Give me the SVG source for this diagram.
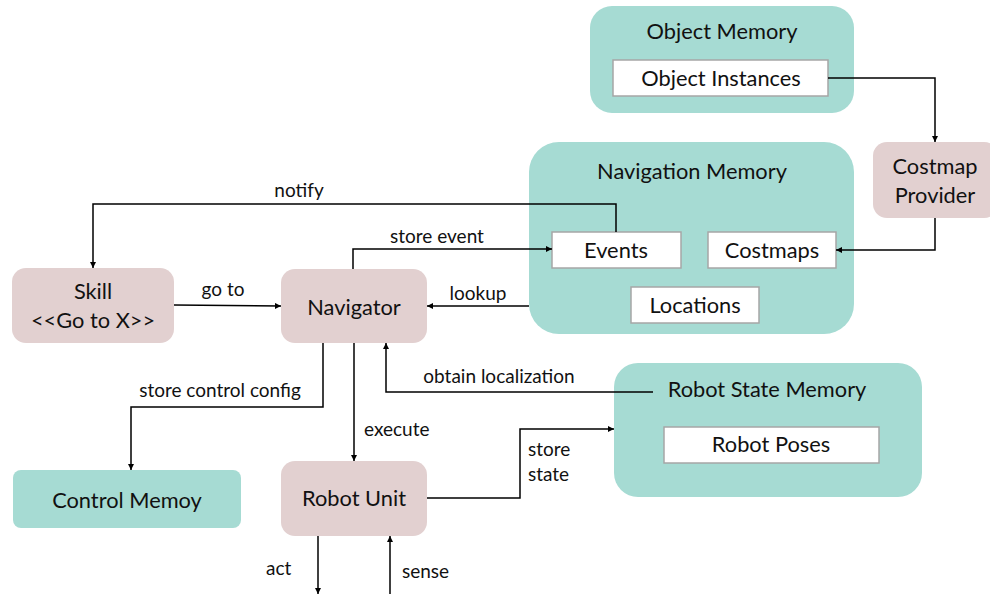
<svg xmlns="http://www.w3.org/2000/svg" width="990" height="594" viewBox="0 0 990 594">
<style>
.mem{fill:#A6DBD3;}
.act{fill:#E2D0D0;}
.inner{fill:#fff;stroke:#A6A6A6;stroke-width:1.5;}
.t{font-family:Lato,"Open Sans",sans-serif;font-size:21.8px;fill:#111;text-anchor:middle;}
.l{font-family:Lato,"Open Sans",sans-serif;font-size:19px;fill:#111;}
.c{fill:none;stroke:#000;stroke-width:1.5;}
</style>
<defs>
<marker id="ah" viewBox="0 0 10 10" refX="10" refY="5" markerWidth="6" markerHeight="6" orient="auto" markerUnits="userSpaceOnUse">
<path d="M0,0 L10,5 L0,10 z" fill="#000"/>
</marker>
</defs>
<rect width="990" height="594" fill="#fff"/>

<g id="object-memory">
<rect class="mem" x="590" y="6" width="264" height="107" rx="22"/>
<text class="t" x="722" y="39">Object Memory</text>
<rect class="inner" x="613" y="60" width="215" height="36"/>
<text class="t" x="721" y="86">Object Instances</text>
</g>

<g id="navigation-memory">
<rect class="mem" x="529" y="142" width="325" height="192" rx="30"/>
<text class="t" x="692" y="179">Navigation Memory</text>
<rect class="inner" x="552" y="232" width="129" height="36"/>
<text class="t" x="616" y="258">Events</text>
<rect class="inner" x="708" y="232" width="128" height="36"/>
<text class="t" x="772" y="258">Costmaps</text>
<rect class="inner" x="631" y="287" width="128" height="36"/>
<text class="t" x="695" y="313">Locations</text>
</g>

<g id="costmap-provider">
<rect class="act" x="873" y="142" width="125" height="76" rx="14"/>
<text class="t" x="935" y="174">Costmap</text>
<text class="t" x="935" y="203">Provider</text>
</g>

<g id="skill">
<rect class="act" x="12" y="268" width="162" height="75" rx="14"/>
<text class="t" x="93" y="299">Skill</text>
<text class="t" x="93" y="328">&lt;&lt;Go to X&gt;&gt;</text>
</g>

<g id="navigator">
<rect class="act" x="281" y="269" width="146" height="74" rx="14"/>
<text class="t" x="354" y="315">Navigator</text>
</g>

<g id="robot-state-memory">
<rect class="mem" x="614" y="363" width="308" height="134" rx="24"/>
<text class="t" x="767" y="397">Robot State Memory</text>
<rect class="inner" x="664" y="427" width="215" height="36"/>
<text class="t" x="771" y="452">Robot Poses</text>
</g>

<g id="control-memory">
<rect class="mem" x="13" y="470" width="228" height="58" rx="8"/>
<text class="t" x="127" y="508">Control Memoy</text>
</g>

<g id="robot-unit">
<rect class="act" x="281" y="461" width="146" height="75" rx="14"/>
<text class="t" x="354" y="506">Robot Unit</text>
</g>

<g id="connectors">
<polyline class="c" points="828,78 935,78 935,142" marker-end="url(#ah)"/>
<polyline class="c" points="935,218 935,250 836,250" marker-end="url(#ah)"/>
<polyline class="c" points="616,232 616,204 93,204 93,268" marker-end="url(#ah)"/>
<polyline class="c" points="353,269 353,249 552,249" marker-end="url(#ah)"/>
<polyline class="c" points="174,305 281,306" marker-end="url(#ah)"/>
<polyline class="c" points="529,306 427,306" marker-end="url(#ah)"/>
<polyline class="c" points="323,343 323,407 131,407 131,470" marker-end="url(#ah)"/>
<polyline class="c" points="354,343 354,461" marker-end="url(#ah)"/>
<polyline class="c" points="653,392 386,392 386,343" marker-end="url(#ah)"/>
<polyline class="c" points="427,498 520,498 520,429 614,429" marker-end="url(#ah)"/>
<polyline class="c" points="318,536 318,594" marker-end="url(#ah)"/>
<polyline class="c" points="390,594 390,536" marker-end="url(#ah)"/>
<text class="l" x="299" y="197" text-anchor="middle">notify</text>
<text class="l" x="437" y="243" text-anchor="middle">store event</text>
<text class="l" x="223" y="296" text-anchor="middle">go to</text>
<text class="l" x="478" y="300" text-anchor="middle">lookup</text>
<text class="l" x="220" y="397" text-anchor="middle">store control config</text>
<text class="l" x="499" y="383" text-anchor="middle">obtain localization</text>
<text class="l" x="364" y="436">execute</text>
<text class="l" x="528" y="456">store</text>
<text class="l" x="528" y="481">state</text>
<text class="l" x="266" y="575">act</text>
<text class="l" x="402" y="578">sense</text>
</g>
</svg>
